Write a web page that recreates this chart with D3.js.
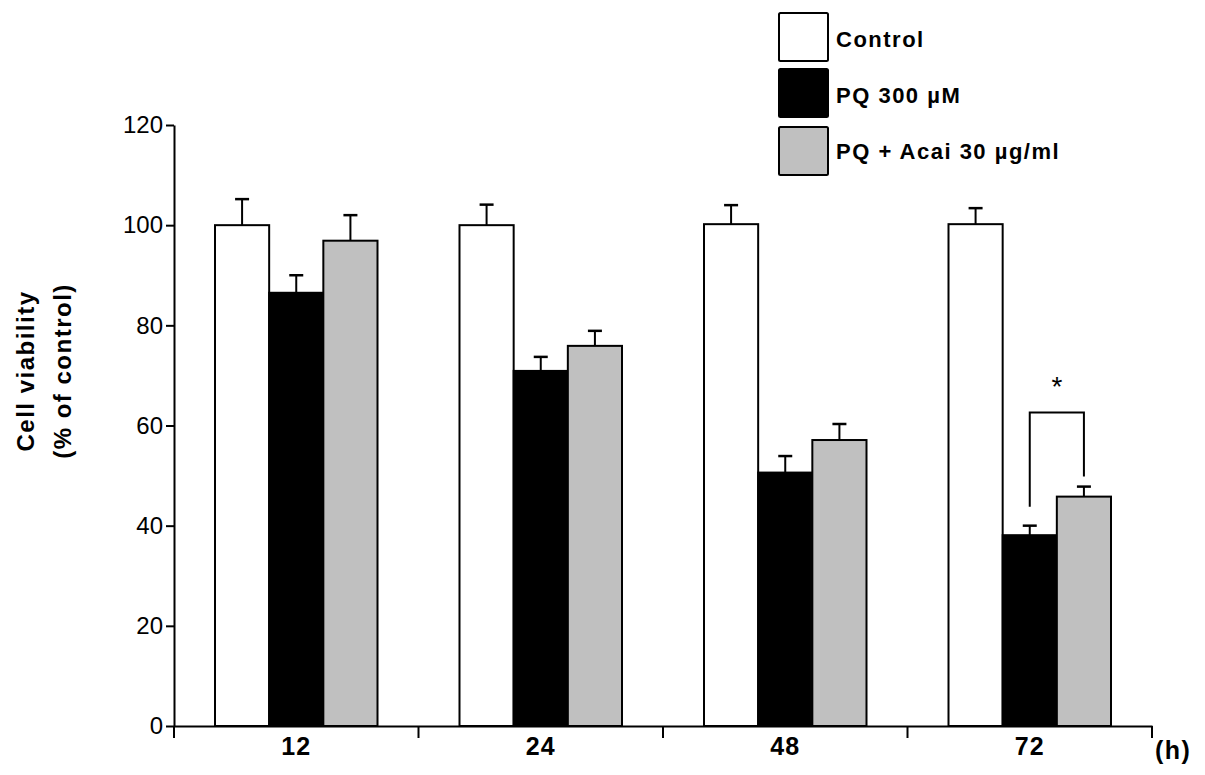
<!DOCTYPE html>
<html>
<head>
<meta charset="utf-8">
<script src="https://cdn.jsdelivr.net/npm/d3@7"></script>
<style>
  body { margin: 0; background: #fff; }
  text { font-family: "Liberation Sans", Arial, sans-serif; }
</style>
</head>
<body>
<script>
var width = 1205;
var height = 775;

// data
var timepoints = ['12', '24', '48', '72'];
var groups = ['Control', 'PQ 300 \u00b5M', 'PQ + Acai 30 \u00b5g/ml'];
var groupColors = ['#ffffff', '#000000', '#c0c0c0'];
var controlMean = [100, 100, 100.2, 100.2];
var controlErr = [5.2, 4.1, 3.8, 3.2];
var pqMean = [86.5, 70.9, 50.6, 38.1];
var pqErr = [3.5, 2.8, 3.3, 1.9];
var acaiMean = [96.9, 75.9, 57.1, 45.8];
var acaiErr = [5.1, 3.0, 3.2, 2.0];
var yTicks = [0, 20, 40, 60, 80, 100, 120];

var means = [controlMean, pqMean, acaiMean];
var errs = [controlErr, pqErr, acaiErr];

var svg = d3.select('body').append('svg')
    .attr('width', width)
    .attr('height', height);

var x = d3.scaleBand()
    .domain(timepoints)
    .range([174, 1152])
    .paddingInner(0)
    .paddingOuter(0);

var xInner = d3.scaleBand()
    .domain(groups)
    .range([41, x.bandwidth() - 41]);

var y = d3.scaleLinear()
    .domain([0, 120])
    .range([726, 125]);

var rows = [];
timepoints.forEach(function(t, i) {
    groups.forEach(function(g, j) {
        rows.push({t: t, g: g, j: j, v: means[j][i], e: errs[j][i]});
    });
});

function cx(d) { return x(d.t) + xInner(d.g) + xInner.bandwidth() / 2; }

// error bars (drawn first so bars cover the stem base)
var eb = svg.append('g').selectAll('g').data(rows).join('g');
eb.append('line')
    .attr('x1', cx).attr('x2', cx)
    .attr('y1', function(d) { return y(d.v); })
    .attr('y2', function(d) { return y(d.v + d.e); })
    .attr('stroke', '#000').attr('stroke-width', 2);
eb.append('line')
    .attr('x1', function(d) { return cx(d) - 7; })
    .attr('x2', function(d) { return cx(d) + 7; })
    .attr('y1', function(d) { return y(d.v + d.e); })
    .attr('y2', function(d) { return y(d.v + d.e); })
    .attr('stroke', '#000').attr('stroke-width', 2.5);

svg.append('g').selectAll('rect').data(rows).join('rect')
    .attr('x', function(d) { return x(d.t) + xInner(d.g); })
    .attr('y', function(d) { return y(d.v); })
    .attr('width', xInner.bandwidth())
    .attr('height', function(d) { return y(0) - y(d.v); })
    .attr('fill', function(d) { return groupColors[d.j]; })
    .attr('stroke', '#000')
    .attr('stroke-width', 2);

// y axis
var yAxis = svg.append('g')
    .attr('transform', 'translate(174,0)')
    .call(d3.axisLeft(y).tickValues(yTicks).tickSize(8).tickPadding(3).tickSizeOuter(0));
yAxis.select('.domain').attr('stroke-width', 2);
yAxis.selectAll('.tick line').attr('stroke-width', 2);
yAxis.selectAll('text').style('font-size', '24px').attr('fill', '#000');

// x axis
var xAxis = svg.append('g')
    .attr('transform', 'translate(0,726)')
    .call(d3.axisBottom(x).tickSize(0).tickSizeOuter(0));
xAxis.select('.domain').attr('stroke-width', 2);
xAxis.selectAll('text')
    .attr('y', 29).attr('dy', 0)
    .style('font-size', '25px').style('font-weight', 'bold')
    .style('letter-spacing', '1px').attr('fill', '#000');
// boundary ticks between groups
var bounds = timepoints.map(function(t) { return x(t); }).concat([x.range()[1]]);
xAxis.selectAll('.bound').data(bounds).join('line')
    .attr('class', 'bound')
    .attr('x1', function(d) { return d; })
    .attr('x2', function(d) { return d; })
    .attr('y1', 0).attr('y2', 12)
    .attr('stroke', '#000').attr('stroke-width', 2);

svg.append('text')
    .attr('x', 1155).attr('y', 759)
    .style('font-size', '25px').style('font-weight', 'bold')
    .style('letter-spacing', '1.5px')
    .text('(h)');

// y label
var yl = svg.append('text')
    .attr('transform', 'translate(0,371) rotate(-90)')
    .attr('text-anchor', 'middle')
    .style('font-size', '24px').style('font-weight', 'bold')
    .style('letter-spacing', '1.5px');
yl.append('tspan').attr('x', 0).attr('y', 34).text('Cell viability');
yl.append('tspan').attr('x', 0).attr('y', 71).text('(% of control)');

// significance bracket at 72 h
var xPQ = x('72') + xInner(groups[1]) + xInner.bandwidth() / 2;
var xAc = x('72') + xInner(groups[2]) + xInner.bandwidth() / 2;
svg.append('path')
    .attr('d', 'M' + xPQ + ',' + y(43.8) + 'V' + y(62.6) + 'H' + xAc + 'V' + y(49.8))
    .attr('fill', 'none').attr('stroke', '#000').attr('stroke-width', 2);
svg.append('text')
    .attr('x', (xPQ + xAc) / 2).attr('y', 396)
    .attr('text-anchor', 'middle')
    .style('font-size', '28px')
    .text('*');

// legend
var legend = svg.append('g').selectAll('g').data(groups).join('g')
    .attr('transform', function(d, i) { return 'translate(779,' + [13, 69, 127][i] + ')'; });
legend.append('rect')
    .attr('width', 49).attr('height', 48)
    .attr('fill', function(d, i) { return groupColors[i]; })
    .attr('stroke', '#000').attr('stroke-width', 2).attr('rx', 1.5);
legend.append('text')
    .attr('x', 57).attr('y', function(d, i) { return [34, 34, 32][i]; })
    .style('font-size', '22px').style('font-weight', 'bold')
    .style('letter-spacing', '1.5px')
    .text(function(d) { return d; });
</script>
</body>
</html>
